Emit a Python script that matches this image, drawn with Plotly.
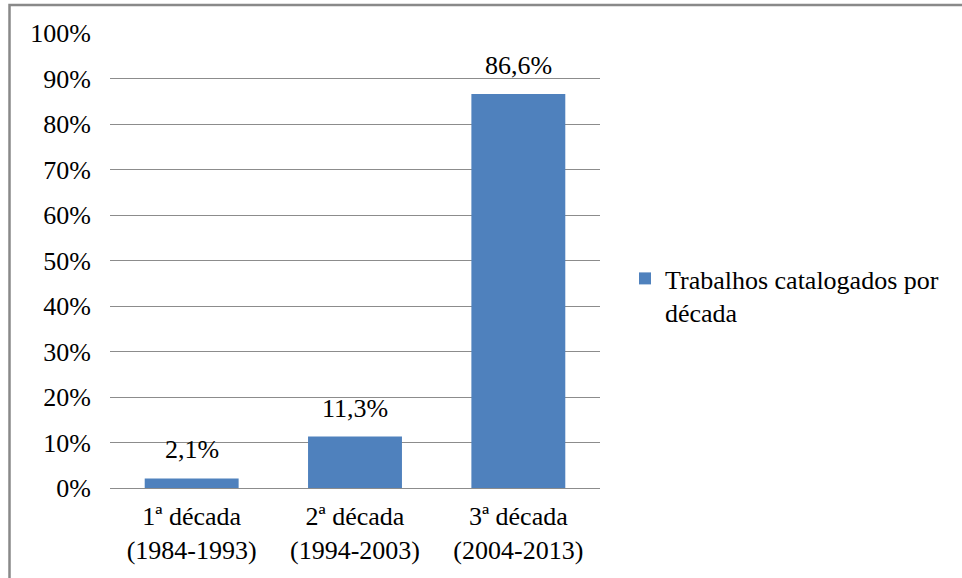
import plotly.graph_objects as go

# Share of catalogued works per decade
categories = ["1ª década<br>(1984-1993)", "2ª década<br>(1994-2003)", "3ª década<br>(2004-2013)"]
values = [2.1, 11.3, 86.6]
series_name = "Trabalhos catalogados por<br>década"
y_ticks = list(range(0, 101, 10))
y_tick_labels = [f"{t}%" for t in y_ticks]

FONT = '"Liberation Serif", "Times New Roman", serif'
FS = 26
BAR_COLOR = "#4F81BD"
GRID = "#8C8C8C"

W, H = 962, 578
ML, MR, MT, MB = 110, 362, 33, 90
PW, PH = W - ML - MR, H - MT - MB


def px_to_paper_x(px):
    return (px - ML) / PW


def px_to_paper_y(py):
    return 1 - (py - MT) / PH


fig = go.Figure()
fig.add_trace(go.Bar(
    x=categories,
    y=values,
    name=series_name,
    marker=dict(color=BAR_COLOR, line=dict(width=0)),
    width=0.575,
    showlegend=True,
))

# Value labels above each bar
for cat, val in zip(categories, values):
    fig.add_annotation(
        x=cat, y=val, xref="x", yref="y",
        text=f"{val:.1f}%".replace(".", ","),
        showarrow=False, yanchor="bottom", yshift=12,
        font=dict(family=FONT, size=FS, color="#000000"),
    )

# Chart frame (left and top edges)
fig.add_shape(
    type="path", xref="paper", yref="paper",
    path=(f"M {px_to_paper_x(9.5)},{px_to_paper_y(600)} "
          f"L {px_to_paper_x(9.5)},{px_to_paper_y(5)} "
          f"L {px_to_paper_x(1000)},{px_to_paper_y(5)}"),
    line=dict(color="#898989", width=2.5),
    layer="above",
)

fig.update_layout(
    width=W, height=H,
    margin=dict(l=ML, r=MR, t=MT, b=MB),
    paper_bgcolor="white", plot_bgcolor="white",
    font=dict(family=FONT, size=FS, color="#000000"),
    bargap=0.425,
    showlegend=True,
    legend=dict(
        x=px_to_paper_x(625), y=px_to_paper_y(255),
        xanchor="left", yanchor="top",
        valign="top",
        font=dict(family=FONT, size=FS, color="#000000"),
        bgcolor="rgba(0,0,0,0)",
    ),
    xaxis=dict(
        showgrid=False, showline=False, zeroline=False,
        ticks="", tickfont=dict(family=FONT, size=FS, color="#000000"),
        ticklabelstandoff=10,
    ),
    yaxis=dict(
        range=[0, 100], tickvals=y_ticks, ticktext=y_tick_labels,
        showgrid=True, gridcolor=GRID, gridwidth=1,
        zeroline=True, zerolinecolor=GRID, zerolinewidth=1,
        showline=False, ticks="",
        tickfont=dict(family=FONT, size=FS, color="#000000"),
        ticklabelstandoff=18,
    ),
)

fig.write_html("out.html")
